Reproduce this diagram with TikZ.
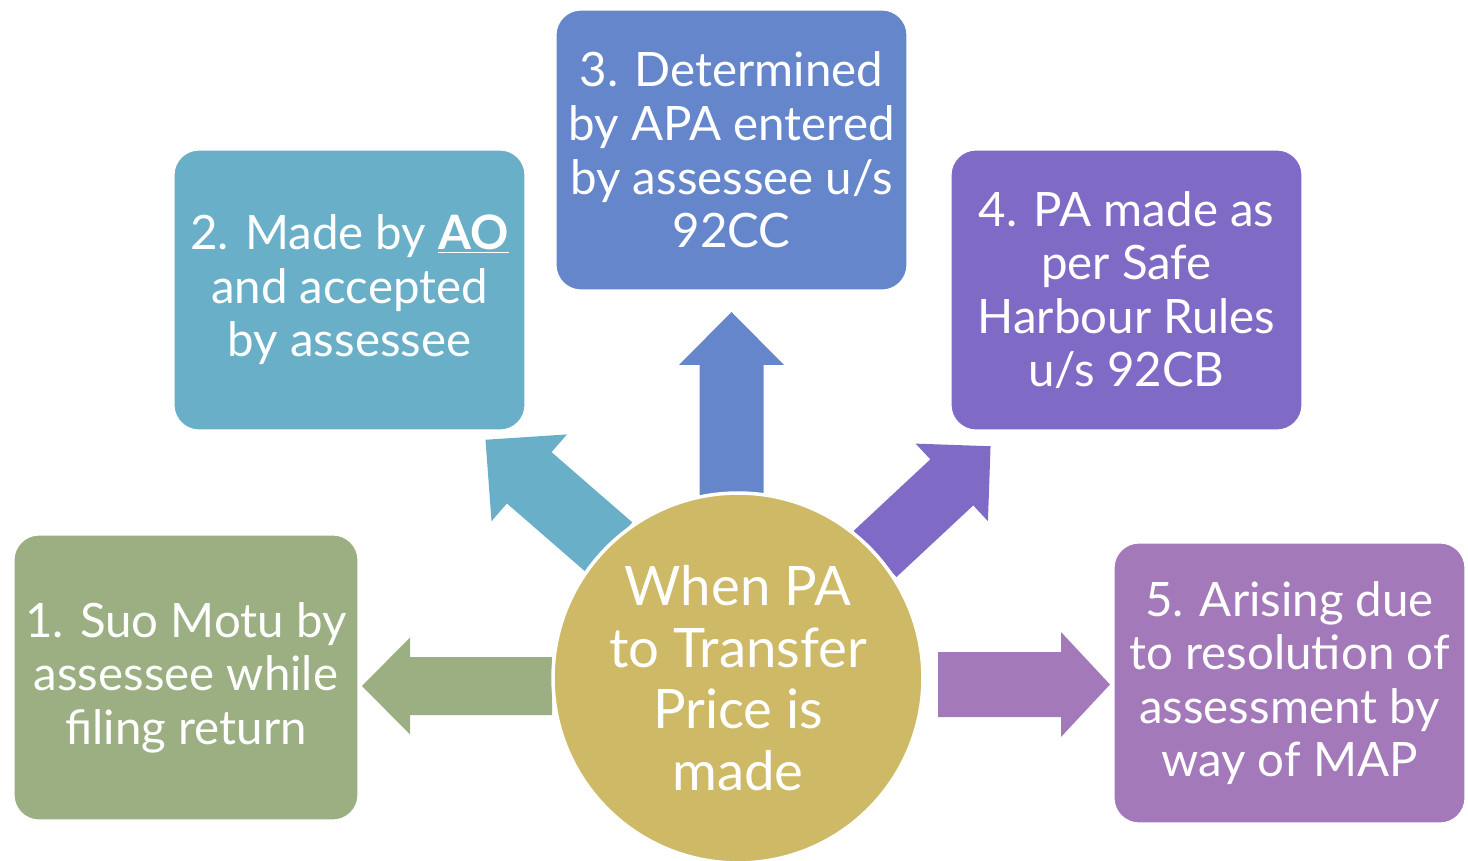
\documentclass[tikz,border=0pt]{standalone}
\usepackage{fontspec}
\setmainfont{Lato}
\definecolor{sage}{HTML}{9BAF82}
\definecolor{skyteal}{HTML}{6AAFC8}
\definecolor{cornflower}{HTML}{6686CC}
\definecolor{iris}{HTML}{7F6BC6}
\definecolor{lilac}{HTML}{A379BA}
\definecolor{mustard}{HTML}{CEB967}
\newcommand{\cardfont}{\fontsize{27}{30.5}\selectfont}
\newcommand{\hubfont}{\fontsize{31}{35}\selectfont}
% block arrow: colour, base point, angle, length, shaft width, head width, head length
\newcommand{\fatarrow}[7]{\fill[#1,shift={#2},rotate=#3](0,{-#5/2})--({#4-#7},{-#5/2})--({#4-#7},{-#6/2})--(#4,0)--({#4-#7},{#6/2})--({#4-#7},{#5/2})--(0,{#5/2})--cycle;}
\tikzset{fig/.style={x=0.02cm,y=-0.02cm,line join=round},
  card/.style={draw=white,line width=0.6pt,rounded corners=0.5cm,text=white,align=center,
    minimum width=7.02cm,minimum height=5.6cm,inner sep=0pt,font=\cardfont},
  hub/.style={circle,fill=mustard,draw=white,line width=2pt,text=white,align=center,
    minimum size=7.4cm,inner sep=0pt,font=\hubfont}}

\begin{document}
\begin{tikzpicture}[fig]
  \useasboundingbox(0,0)rectangle(1468,861);
  % the five cases
  \node[card,fill=sage,minimum width=6.88cm,minimum height=5.7cm](case1)at(186,677.5){1. Suo Motu by\\assessee while\\filing return};
  \node[card,fill=skyteal](case2)at(349.5,290){2. Made by \underline{\textbf{AO}}\\and accepted\\by assessee};
  \node[card,fill=cornflower](case3)at(731.5,150){3. Determined\\by APA entered\\by assessee u/s\\92CC};
  \node[card,fill=iris](case4)at(1126.5,290){4. PA made as\\per Safe\\Harbour Rules\\u/s 92CB};
  \node[card,fill=lilac](case5)at(1289.5,683){5. Arising due\\to resolution of\\assessment by\\way of MAP};
  % arrows out of the hub
  \fatarrow{sage}{(552,686)}{180}{190}{58}{97}{48}
  \fatarrow{skyteal}{(610,548)}{139}{165}{68}{115}{58}
  \fatarrow{cornflower}{(731.5,496)}{90}{184}{64}{105}{53}
  \fatarrow{iris}{(875,554)}{43}{158}{63}{106}{53}
  \fatarrow{lilac}{(938,684.5)}{0}{172}{65}{105}{49}
  \node[hub](hub)at(738,678){When PA\\to Transfer\\Price is\\made};
\end{tikzpicture}
\end{document}
